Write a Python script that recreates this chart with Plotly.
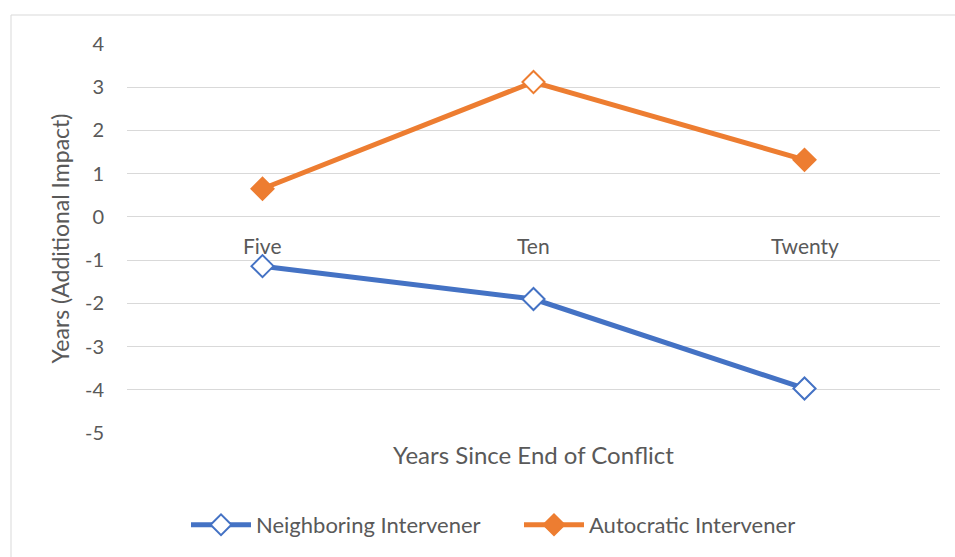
import plotly.graph_objects as go

categories = ["Five", "Ten", "Twenty"]
neighboring = [-1.14, -1.90, -3.97]
autocratic = [0.65, 3.12, 1.32]
y_ticks = [4, 3, 2, 1, 0, -1, -2, -3, -4, -5]
y_tick_text = ["4", "3", "2", "1", "0", "-1", "-2", "-3", "-4", "-5"]

BLUE = "#4472C4"
ORANGE = "#ED7D31"
TEXT = "#595959"
FONT = "Lato"

fig = go.Figure()

fig.add_trace(go.Scatter(
    x=categories, y=neighboring, name="Neighboring Intervener",
    mode="lines+markers",
    line=dict(color=BLUE, width=5),
    marker=dict(symbol="diamond", size=17, color="white",
                line=dict(color=BLUE, width=2)),
))
fig.add_trace(go.Scatter(
    x=categories, y=autocratic, name="Autocratic Intervener",
    mode="lines+markers",
    line=dict(color=ORANGE, width=5),
    marker=dict(symbol="diamond", size=17,
                color=[ORANGE, "white", ORANGE],
                line=dict(color=ORANGE, width=2)),
))

# category labels sit just below the zero line, where the axis crosses
for c in categories:
    fig.add_annotation(x=c, y=0, xref="x", yref="y", text=c,
                       showarrow=False, yanchor="top", yshift=-14,
                       font=dict(family=FONT, size=21, color=TEXT))

# outer chart frame
plot_l, plot_r, plot_t, plot_b = 127, 940, 44, 433
pw, ph = plot_r - plot_l, plot_b - plot_t
fig.add_shape(type="rect", xref="paper", yref="paper",
              x0=(11 - plot_l) / pw, x1=(975 - plot_l) / pw,
              y0=-(600 - plot_b) / ph, y1=1 + (plot_t - 15) / ph,
              line=dict(color="#D9D9D9", width=1), fillcolor="rgba(0,0,0,0)",
              layer="below")

fig.update_layout(
    width=955, height=557,
    margin=dict(l=plot_l, r=955 - plot_r, t=plot_t, b=557 - plot_b,
                autoexpand=False),
    paper_bgcolor="white", plot_bgcolor="white",
    font=dict(family=FONT, color=TEXT, size=20),
    showlegend=True,
    legend=dict(orientation="h", x=(186 - plot_l) / pw, xanchor="left",
                y=-(504 - plot_b) / ph, yanchor="top",
                font=dict(family=FONT, size=22, color=TEXT),
                itemwidth=60, entrywidth=258, entrywidthmode="pixels"),
    xaxis=dict(range=[-0.5, 2.5], showticklabels=False, showgrid=False,
               zeroline=False, showline=False, ticks="",
               title=dict(text="Years Since End of Conflict", standoff=14,
                          font=dict(family=FONT, size=24, color=TEXT))),
    yaxis=dict(range=[-5, 4], tickvals=y_ticks, ticktext=y_tick_text,
               showgrid=True, gridcolor="#D9D9D9", gridwidth=1,
               zeroline=False, showline=False, ticks="",
               ticklabelstandoff=22,
               tickfont=dict(family=FONT, size=20, color=TEXT),
               title=dict(text="Years (Additional Impact)", standoff=8,
                          font=dict(family=FONT, size=23, color=TEXT))),
)

fig.write_html("out.html")
